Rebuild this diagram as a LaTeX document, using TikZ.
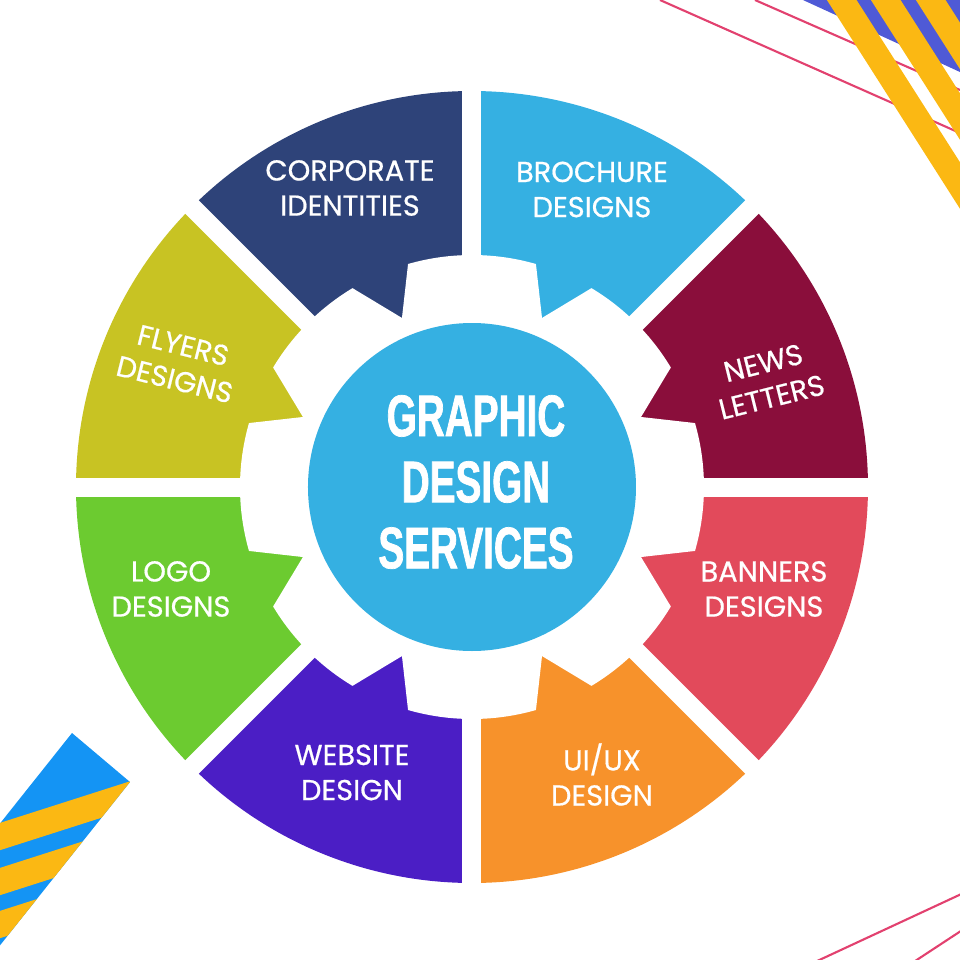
\documentclass[tikz,border=0pt]{standalone}
\usepackage{fontspec}
\setmainfont{Poppins}
\newfontfamily\labelfont[FakeBold=0.6]{Poppins}
\newfontfamily\titlefont[FakeStretch=0.66,FakeBold=1.2]{Liberation Sans}
\usetikzlibrary{positioning}
\definecolor{Navy}{HTML}{2E4379}
\definecolor{Sky}{HTML}{35B0E2}
\definecolor{Wine}{HTML}{8A0E3B}
\definecolor{Coral}{HTML}{E24A5B}
\definecolor{Tangerine}{HTML}{F7922B}
\definecolor{Violet}{HTML}{4B1EC5}
\definecolor{Lime}{HTML}{6CCB30}
\definecolor{Olive}{HTML}{C8C323}
\definecolor{Rose}{HTML}{E2416F}
\definecolor{Amber}{HTML}{FBB813}
\definecolor{Periwinkle}{HTML}{4F5AD6}
\definecolor{Azure}{HTML}{1494F4}

\begin{document}
\begin{tikzpicture}[x=1cm,y=1cm,every node/.style={text=white,align=center,font=\labelfont\fontsize{8.2}{10}\selectfont}]
      \useasboundingbox (-4.72,-4.73) rectangle (4.88,4.87);
      \begin{scope}
      \clip (-4.72,-4.73) rectangle (4.88,4.87);
      % corner stripes
      \fill[Periwinkle] (3.31,4.87) -- (4.88,4.87) -- (4.88,4.15) -- cycle;
      \draw[Rose,line width=0.6pt] (1.88,4.87) -- (4.88,3.54);
      \draw[Rose,line width=0.6pt] (2.83,4.87) -- (4.88,3.97);
      \draw[Amber,line width=0.25cm] (3.57,5.07) -- ++(1.6,-2.51);
      \draw[Amber,line width=0.25cm] (4.01,5.07) -- ++(1.6,-2.51);
      \draw[Amber,line width=0.25cm] (4.46,5.07) -- ++(1.6,-2.51);
      
      \draw[Rose,line width=0.6pt] (3.28,-4.82) -- (4.98,-4.03);
      \draw[Rose,line width=0.6pt] (4.31,-4.82) -- (4.98,-4.38);
      
      \begin{scope}
      \clip (-4.00,-2.46) -- (-3.42,-2.95) -- (-5.29,-5.30) -- (-5.87,-4.81) -- cycle;
      \fill[Azure] (-6,-6) rectangle (-3,-2);
      \draw[Amber,line width=0.26cm] (-5,-3.585) -- (-3,-2.945);
      \draw[Amber,line width=0.26cm] (-5,-4.035) -- (-3,-3.395);
      \draw[Amber,line width=0.26cm] (-5,-4.465) -- (-3,-3.825);
      \end{scope}
      \end{scope}
      
      % wheel
      \fill[Wine] (0,0) -- (0:3.96) arc[start angle=0,end angle=45,radius=3.96] -- cycle;
      \fill[Sky] (0,0) -- (45:3.96) arc[start angle=45,end angle=90,radius=3.96] -- cycle;
      \fill[Navy] (0,0) -- (90:3.96) arc[start angle=90,end angle=135,radius=3.96] -- cycle;
      \fill[Olive] (0,0) -- (135:3.96) arc[start angle=135,end angle=180,radius=3.96] -- cycle;
      \fill[Lime] (0,0) -- (180:3.96) arc[start angle=180,end angle=225,radius=3.96] -- cycle;
      \fill[Violet] (0,0) -- (225:3.96) arc[start angle=225,end angle=270,radius=3.96] -- cycle;
      \fill[Tangerine] (0,0) -- (270:3.96) arc[start angle=270,end angle=315,radius=3.96] -- cycle;
      \fill[Coral] (0,0) -- (315:3.96) arc[start angle=315,end angle=360,radius=3.96] -- cycle;
      
      \draw[white,line width=0.19cm] (-4.1,0) -- (4.1,0);
      \draw[white,line width=0.19cm] (0,-4.1) -- (0,4.1);
      \draw[white,line width=0.19cm] (45:4.1) -- (225:4.1);
      \draw[white,line width=0.19cm] (135:4.1) -- (315:4.1);
      
      % gear
      \fill[white] (-22.5:1.83)
        -- (-16:2.32) arc[start angle=-16,end angle=16,radius=2.32] -- (22.5:1.83)
        -- (31:2.32) arc[start angle=31,end angle=59,radius=2.32] -- (67.5:1.83)
        -- (74:2.32) arc[start angle=74,end angle=106,radius=2.32] -- (112.5:1.83)
        -- (121:2.32) arc[start angle=121,end angle=149,radius=2.32] -- (157.5:1.83)
        -- (164:2.32) arc[start angle=164,end angle=196,radius=2.32] -- (202.5:1.83)
        -- (211:2.32) arc[start angle=211,end angle=239,radius=2.32] -- (247.5:1.83)
        -- (254:2.32) arc[start angle=254,end angle=286,radius=2.32] -- (292.5:1.83)
        -- (301:2.32) arc[start angle=301,end angle=329,radius=2.32] -- cycle;
      
      \node[circle,fill=Sky,minimum size=3.28cm,inner sep=0pt] (core) at (0,0) {};
      \node[font=\titlefont\bfseries\fontsize{16.7}{18.8}\selectfont] (title) at (0.04,0.05) {GRAPHIC\\DESIGN\\SERVICES};
      
      \node (corp) at (-1.22,2.99) {CORPORATE\\IDENTITIES};
      \node (broch) at (1.20,2.975) {BROCHURE\\DESIGNS};
      \node[rotate=14] (news) at (2.955,1.07) {NEWS\\LETTERS};
      \node[rotate=-14] (flyers) at (-2.93,1.245) {FLYERS\\DESIGNS};
      \node (logo) at (-3.01,-1.02) {LOGO\\DESIGNS};
      \node (banners) at (2.92,-1.02) {BANNERS\\DESIGNS};
      \node (website) at (-1.20,-2.855) {WEBSITE\\DESIGN};
      \node (uiux) at (1.30,-2.875) {UI/UX\\DESIGN};
    \end{tikzpicture}
\end{document}
